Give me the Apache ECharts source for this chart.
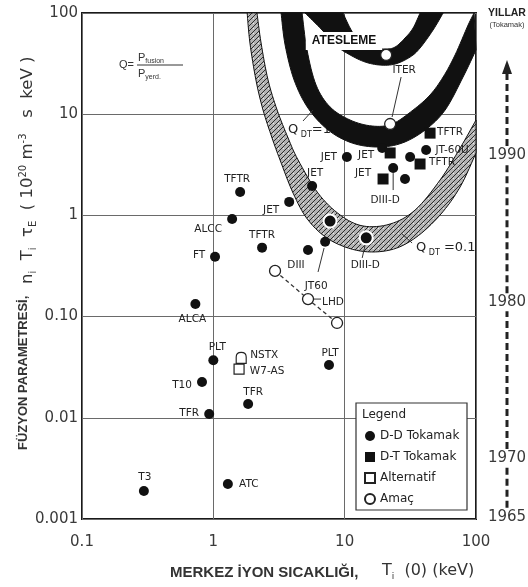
<!DOCTYPE html>
<html><head><meta charset="utf-8">
<script src="https://cdn.jsdelivr.net/npm/echarts@6/dist/echarts.min.js"></script>
<style>html,body{margin:0;padding:0;background:#fff}#c{width:528px;height:587px}</style>
</head><body><div id="c"></div>
<script>
// ---------------- data ----------------
const xTickLabels = ['0.1', '1', '10', '100'];
const yTickLabels = ['0.001', '0.01', '0.10', '1', '10', '100'];

// D-D tokamak results (filled circles)
const ddX = [1.60, 1.39, 1.03, 2.35, 3.78, 5.65, 7.74, 7.10, 5.26, 14.6, 10.4, 19.3, 23.4, 28.8, 31.5, 41.7, 1.00, 0.73, 0.82, 0.93, 1.84, 7.6, 0.296, 1.29];
const ddY = [1.70, 0.92, 0.39, 0.48, 1.36, 1.95, 0.88, 0.55, 0.455, 0.60, 3.78, 4.63, 2.94, 2.29, 3.78, 4.43, 0.037, 0.133, 0.0226, 0.0109, 0.0137, 0.0333, 0.00189, 0.00222];
const ddLabel = ['TFTR', 'ALCC', 'FT', 'TFTR', 'JET', 'JET', '', 'JT60', 'DIII', 'DIII-D', 'JET', 'JET', 'DIII-D', '', '', 'JT-60U', 'PLT', 'ALCA', 'T10', 'TFR', 'TFR', 'PLT', 'T3', 'ATC'];

// D-T tokamak results (filled squares)
const dtX = [44.7, 22.2, 37.5, 19.6];
const dtY = [6.5, 4.14, 3.22, 2.29];
const dtLabel = ['TFTR', '', 'TFTR', 'JET'];

// Alternative concepts (open squares)
const altX = [1.63, 1.57];
const altY = [0.039, 0.0303];
const altLabel = ['NSTX', 'W7-AS'];

// Goals (open circles)
const goalX = [20.7, 22.2, 2.95, 5.26, 8.75];
const goalY = [38.5, 8.0, 0.283, 0.149, 0.0865];
const goalLabel = ['', 'ITER', '', 'LHD', ''];

// dashed connection of the goal points
const pathX = [2.95, 5.26, 8.75];
const pathY = [0.283, 0.149, 0.0865];

// Ignition band (ATESLEME)
const ignOuterX = [4.99, 6.73, 8.45, 11.0, 14.3, 18.6, 24.2, 31.5, 37.5, 47.1, 56.2];
const ignOuterY = [100, 67.9, 48.3, 38.5, 32.8, 30.6, 31.3, 36.7, 45.1, 67.9, 100];
const ignInnerX = [9.72, 11.0, 12.65, 15.6, 20.3, 24.2, 28.8, 33.2, 37.5];
const ignInnerY = [100, 71.1, 54.1, 46.1, 44.1, 46.1, 56.6, 71.1, 100];

// Q_DT = 1 band
const q1OuterX = [3.28, 3.52, 4.12, 5.26, 7.48, 11.4, 18.0, 27.4, 41.0, 58.2, 79.7, 100];
const q1OuterY = [100, 48.3, 21.8, 11.5, 6.98, 5.19, 4.74, 5.19, 6.98, 11.0, 23.3, 43.1];
const q1InnerX = [4.74, 5.17, 6.06, 7.74, 11.0, 16.2, 23.0, 33.2, 44.7, 56.2, 69.3, 87.1, 96.7];
const q1InnerY = [100, 43.1, 19.4, 11.8, 8.76, 7.64, 8.0, 11.0, 15.5, 23.3, 38.5, 76.1, 100];

// Q_DT = 0.1 band
const q01OuterX = [1.81, 1.90, 2.11, 2.39, 2.80, 3.22, 4.05, 5.26, 7.74, 13.1, 22.2, 34.4, 53.3, 75.7, 100];
const q01OuterY = [100, 50.5, 21.8, 11.0, 5.82, 3.53, 1.66, 0.901, 0.571, 0.445, 0.455, 0.598, 1.01, 1.91, 4.14];
const q01InnerX = [2.15, 2.31, 2.61, 3.06, 3.71, 4.42, 6.27, 9.23, 13.8, 22.2, 34.4, 53.3, 75.7, 100];
const q01InnerY = [100, 50.5, 21.8, 11.0, 5.82, 3.53, 1.66, 1.01, 0.786, 0.822, 1.13, 2.24, 4.63, 8.76];

// leader lines [x1, y1] -> [x2, y2]
const leaderX1 = [26.9, 4.82, 32.6, 6.97, 23.4, 14.3, 5.74];
const leaderY1 = [23.3, 8.57, 0.534, 0.476, 2.62, 0.510, 0.149];
const leaderX2 = [22.96, 5.74, 26.9, 6.27, 23.4, 13.6, 6.61];
const leaderY2 = [9.38, 11.0, 0.670, 0.276, 1.78, 0.380, 0.149];

// year scale on the right (value on the y scale where each year sits)
const yearLabels = ['1990', '1980', '1970', '1965'];
const yearAtY = [3.96, 0.139, 0.0040, 0.00105];

// ---------------- styling (label offsets) ----------------
const ddOffset = [[-3,-13],[-24,10],[-16,-2],[0,-12],[-18,8],[3,-13],[0,0],[-9,45],[-12,15],[-1,27],[-18,0],[-16,7],[-8,32],[0,0],[0,0],[26,0],[4,-13],[-3,15],[-20,3],[-20,-1],[5,-12],[1,-12],[1,-14],[21,0]];
const ddRing = [6, 9];
const dtOffset = [[20,-1],[0,0],[22,-2],[-20,-6]];
const altOffset = [[23,-3],[28,2]];
const goalOffset = [[0,0],[14,-54],[0,0],[25,3],[0,0]];

const LBL = {color: '#222', fontSize: 10.5, fontFamily: 'DejaVu Sans', position: 'inside'};

function pts(xs, ys) { return xs.map((x, i) => [x, ys[i]]); }
function items(xs, ys, labels, offs, extra) {
  return xs.map((x, i) => {
    const it = {value: [x, ys[i]]};
    if (labels[i]) it.label = Object.assign({show: true, formatter: labels[i], offset: offs[i]}, LBL);
    if (extra) extra(it, i);
    return it;
  });
}
function catmull(p, seg) {
  const out = [];
  const n = p.length;
  for (let i = 0; i < n - 1; i++) {
    const p0 = p[Math.max(i - 1, 0)], p1 = p[i], p2 = p[i + 1], p3 = p[Math.min(i + 2, n - 1)];
    for (let s = 0; s < seg; s++) {
      const t = s / seg, t2 = t * t, t3 = t2 * t;
      out.push([0, 1].map(k => 0.5 * ((2 * p1[k]) + (-p0[k] + p2[k]) * t + (2 * p0[k] - 5 * p1[k] + 4 * p2[k] - p3[k]) * t2 + (-p0[k] + 3 * p1[k] - 3 * p2[k] + p3[k]) * t3)));
    }
  }
  out.push(p[n - 1]);
  return out;
}

// hatch pattern
const pc = document.createElement('canvas');
pc.width = 5; pc.height = 5;
const g = pc.getContext('2d');
g.fillStyle = '#b4b4b4'; g.fillRect(0, 0, 5, 5);
g.strokeStyle = '#2e2e2e'; g.lineWidth = 1;
g.beginPath(); g.moveTo(0, 5); g.lineTo(5, 0); g.stroke();
g.fillStyle = '#eeeeee'; g.fillRect(3, 3, 1, 1);

function bandSeries(ox, oy, ix, iy, fill, stroke) {
  const outer = pts(ox, oy), inner = pts(ix, iy);
  return {
    type: 'custom', coordinateSystem: 'cartesian2d', silent: true, z: 2, data: [0],
    renderItem: (params, api) => {
      const po = catmull(outer.map(p => api.coord(p)), 8);
      const pi = catmull(inner.map(p => api.coord(p)), 8).reverse();
      return {type: 'polygon', shape: {points: po.concat(pi)}, style: {fill: fill, stroke: stroke, lineWidth: 1}};
    }
  };
}

const chart = echarts.init(document.getElementById('c'), null, {renderer: 'canvas'});

const option = {
  backgroundColor: '#fff',
  animation: false,
  grid: {left: 82, right: 52, top: 13, bottom: 68, show: true, borderColor: '#1a1a1a', borderWidth: 2, backgroundColor: 'transparent', outerBoundsMode: 'none'},
  xAxis: {
    type: 'log', logBase: 10, min: 0.1, max: 100,
    axisLine: {show: false}, axisTick: {show: false},
    splitLine: {show: true, lineStyle: {color: '#6a6a6a', width: 1}},
    axisLabel: {margin: 16, fontSize: 15, fontFamily: 'DejaVu Sans', color: '#3a3a3a',
      formatter: v => xTickLabels[Math.round(Math.log10(v)) + 1]}
  },
  yAxis: {
    type: 'log', logBase: 10, min: 0.001, max: 100,
    axisLine: {show: false}, axisTick: {show: false},
    splitLine: {show: true, lineStyle: {color: '#6a6a6a', width: 1}},
    axisLabel: {margin: 4, fontSize: 15, fontFamily: 'DejaVu Sans', color: '#3a3a3a',
      formatter: v => yTickLabels[Math.round(Math.log10(v)) + 3]}
  },
  legend: {
    orient: 'vertical', left: 364, top: 430, padding: 0, itemGap: 9, itemWidth: 10, itemHeight: 10, z: 20,
    textStyle: {fontSize: 12, fontFamily: 'DejaVu Sans', color: '#222'},
    data: [
      {name: 'D-D Tokamak', icon: 'circle'},
      {name: 'D-T Tokamak', icon: 'rect'},
      {name: 'Alternatif', icon: 'rect'},
      {name: 'Amaç', icon: 'circle'}
    ]
  },
  series: [
    bandSeries(q01OuterX, q01OuterY, q01InnerX, q01InnerY, {image: pc, repeat: 'repeat'}, '#111'),
    bandSeries(q1OuterX, q1OuterY, q1InnerX, q1InnerY, '#111', '#111'),
    bandSeries(ignOuterX, ignOuterY, ignInnerX, ignInnerY, '#111', '#111'),
    {
      type: 'custom', coordinateSystem: 'cartesian2d', silent: true, z: 4,
      data: leaderX1.map((x, i) => [x, leaderY1[i], leaderX2[i], leaderY2[i]]),
      renderItem: (params, api) => {
        const a = api.coord([api.value(0), api.value(1)]), b = api.coord([api.value(2), api.value(3)]);
        return {type: 'line', shape: {x1: a[0], y1: a[1], x2: b[0], y2: b[1]}, style: {stroke: '#333', lineWidth: 1}};
      }
    },
    {
      type: 'line', data: pts(pathX, pathY), symbol: 'none', silent: true, z: 4,
      lineStyle: {color: '#333', width: 1.3, type: [4, 3]}
    },
    {
      name: 'D-D Tokamak', type: 'scatter', symbol: 'circle', symbolSize: 10, z: 5,
      itemStyle: {color: '#111', opacity: 1},
      data: items(ddX, ddY, ddLabel, ddOffset, (it, i) => {
        if (ddRing.includes(i)) { it.itemStyle = {borderColor: '#fff', borderWidth: 2}; it.symbolSize = 13; }
      })
    },
    {
      name: 'D-T Tokamak', type: 'scatter', symbol: 'rect', symbolSize: 11, z: 5,
      itemStyle: {color: '#111', opacity: 1},
      data: items(dtX, dtY, dtLabel, dtOffset)
    },
    {
      name: 'Alternatif', type: 'scatter', symbol: 'rect', symbolSize: 10, z: 5,
      itemStyle: {color: '#fff', borderColor: '#222', borderWidth: 1.2, opacity: 1},
      data: items(altX, altY, altLabel, altOffset, (it, i) => {
        if (i === 0) { it.symbol = 'path://M0,12L0,5C0,2 2,0 5,0C8,0 10,2 10,5L10,12Z'; it.symbolSize = [10, 11]; }
      })
    },
    {
      name: 'Amaç', type: 'scatter', symbol: 'circle', symbolSize: 11, z: 6,
      itemStyle: {color: '#fff', borderColor: '#222', borderWidth: 1.3, opacity: 1},
      data: items(goalX, goalY, goalLabel, goalOffset)
    }
  ]
};
chart.setOption(option);

// ---------------- annotations ----------------
const yp = yearAtY.map(v => chart.convertToPixel({yAxisIndex: 0}, v));
const yearX = 507;
const gr = [];
yearLabels.forEach((t, i) => gr.push({type: 'text', x: yearX, y: yp[i], z: 10,
  style: {text: t, fontSize: 15, fontFamily: 'DejaVu Sans', fill: '#3a3a3a', align: 'center', verticalAlign: 'middle'}}));
const arrowTip = 60, arrowBase = 74;
const segs = [[arrowBase, yp[0] - 9]];
for (let i = 0; i < yp.length - 1; i++) segs.push([yp[i] + 9, yp[i + 1] - 9]);
segs.forEach(s => gr.push({type: 'line', z: 10, shape: {x1: yearX, y1: s[1], x2: yearX, y2: s[0]},
  style: {stroke: '#222', lineWidth: 3, lineDash: [7, 4]}}));
gr.push({type: 'polygon', z: 10, shape: {points: [[yearX, arrowTip], [yearX - 5, arrowBase], [yearX + 5, arrowBase]]}, style: {fill: '#222'}});
gr.push({type: 'text', x: yearX, y: 13, z: 10, style: {text: 'YILLAR', fontSize: 10.5, fontWeight: 'bold', fontFamily: 'Liberation Sans', fill: '#222', align: 'center', verticalAlign: 'middle'}});
gr.push({type: 'text', x: yearX, y: 25, z: 10, style: {text: '(Tokamak)', fontSize: 7.5, fontFamily: 'Liberation Sans', fill: '#333', align: 'center', verticalAlign: 'middle'}});

// axis titles
gr.push({type: 'text', x: 170, y: 573, z: 10, style: {text: 'MERKEZ İYON SICAKLIĞI,', fontSize: 15, fontWeight: 'bold', fontFamily: 'Liberation Sans', fill: '#333', align: 'left', verticalAlign: 'middle'}});
gr.push({type: 'text', x: 382, y: 571, z: 10, style: {
  text: '{m|T}{s|i}{m|  (0) (keV)}', align: 'left', verticalAlign: 'middle',
  rich: {m: {fontSize: 16, fontFamily: 'DejaVu Sans', fill: '#333', lineHeight: 20, verticalAlign: 'middle'},
         s: {fontSize: 9, fontFamily: 'DejaVu Sans', fill: '#333', lineHeight: 9, verticalAlign: 'bottom'}}}});
gr.push({type: 'text', x: 23, y: 450, rotation: Math.PI / 2, z: 10, style: {text: 'FÜZYON PARAMETRESİ,', fontSize: 13, fontWeight: 'bold', fontFamily: 'Liberation Sans', fill: '#333', align: 'left', verticalAlign: 'middle'}});
gr.push({type: 'text', x: 28, y: 284, rotation: Math.PI / 2, z: 10, style: {
  text: '{m|n}{s|i}{m|  T}{s|i}{m|  τ}{s|E}{m|  ( 10}{p|20}{m| m}{p|-3}{m|   s  keV )}', align: 'left', verticalAlign: 'middle',
  rich: {m: {fontSize: 16.5, fontFamily: 'DejaVu Sans', fill: '#333', lineHeight: 20, verticalAlign: 'middle'},
         s: {fontSize: 10, fontFamily: 'DejaVu Sans', fill: '#333', lineHeight: 10, verticalAlign: 'bottom'},
         p: {fontSize: 10, fontFamily: 'DejaVu Sans', fill: '#333', lineHeight: 10, verticalAlign: 'top'}}}});

// Q formula
gr.push({type: 'text', x: 119, y: 65, z: 10, style: {text: 'Q=', fontSize: 11, fontFamily: 'Liberation Sans', fill: '#333', align: 'left', verticalAlign: 'middle'}});
gr.push({type: 'text', x: 138, y: 58, z: 10, style: {text: '{p|P}{s|fusion}', align: 'left', verticalAlign: 'middle',
  rich: {p: {fontSize: 11, fontFamily: 'Liberation Sans', fill: '#333', lineHeight: 14, verticalAlign: 'middle'}, s: {fontSize: 7, fontFamily: 'Liberation Sans', fill: '#333', lineHeight: 7, verticalAlign: 'bottom'}}}});
gr.push({type: 'line', z: 10, shape: {x1: 137, y1: 65, x2: 183, y2: 65}, style: {stroke: '#333', lineWidth: 1}});
gr.push({type: 'text', x: 138, y: 74, z: 10, style: {text: '{p|P}{s|yerd.}', align: 'left', verticalAlign: 'middle',
  rich: {p: {fontSize: 11, fontFamily: 'Liberation Sans', fill: '#333', lineHeight: 14, verticalAlign: 'middle'}, s: {fontSize: 7, fontFamily: 'Liberation Sans', fill: '#333', lineHeight: 7, verticalAlign: 'bottom'}}}});

// band labels
gr.push({type: 'text', x: 344, y: 41, z: 3, style: {text: 'ATESLEME', fontSize: 12, fontWeight: 'bold', fontFamily: 'Liberation Sans', fill: '#111', align: 'center', verticalAlign: 'middle', backgroundColor: '#fff', padding: [3, 6, 3, 6]}});
gr.push({type: 'text', x: 288, y: 130, z: 1, style: {text: '{q|Q}{s| DT}{q|=1}', align: 'left', verticalAlign: 'middle',
  rich: {q: {fontSize: 13, fontFamily: 'DejaVu Sans', fill: '#222', lineHeight: 18, verticalAlign: 'middle'}, s: {fontSize: 8, fontFamily: 'DejaVu Sans', fill: '#222', lineHeight: 14, verticalAlign: 'bottom'}}}});
gr.push({type: 'text', x: 416, y: 248, z: 10, style: {text: '{q|Q}{s| DT}{q| =0.1}', align: 'left', verticalAlign: 'middle',
  rich: {q: {fontSize: 13, fontFamily: 'DejaVu Sans', fill: '#222', lineHeight: 18, verticalAlign: 'middle'}, s: {fontSize: 8, fontFamily: 'DejaVu Sans', fill: '#222', lineHeight: 14, verticalAlign: 'bottom'}}}});

// legend box
gr.push({type: 'rect', z: 15, shape: {x: 356, y: 403, width: 111, height: 107}, style: {fill: '#fff', stroke: '#333', lineWidth: 1.2}});
gr.push({type: 'text', x: 362, y: 415, z: 16, style: {text: 'Legend', fontSize: 12, fontFamily: 'DejaVu Sans', fill: '#222', align: 'left', verticalAlign: 'middle'}});

chart.setOption({graphic: gr});
</script>
</body></html>
